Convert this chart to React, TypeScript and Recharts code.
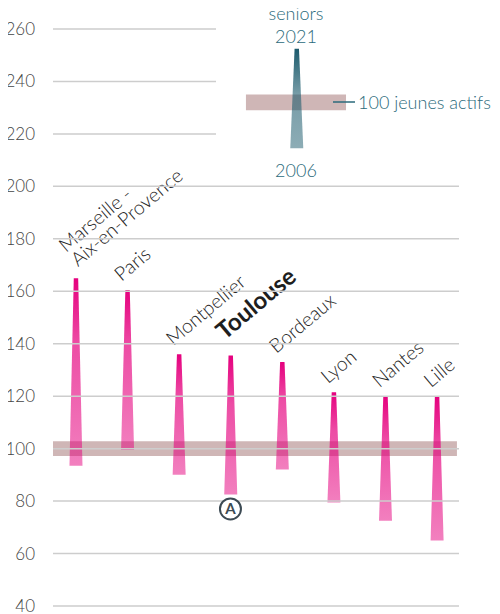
import { ComposedChart, Bar, XAxis, YAxis, ReferenceLine, ReferenceArea, ReferenceDot } from 'recharts';

// seniors per 100 young workers, 2006 -> 2021
const cities = ['Marseille - Aix-en-Provence', 'Paris', 'Montpellier', 'Toulouse', 'Bordeaux', 'Lyon', 'Nantes', 'Lille'];
const cityLines = [['Marseille -', 'Aix-en-Provence'], ['Paris'], ['Montpellier'], ['Toulouse'], ['Bordeaux'], ['Lyon'], ['Nantes'], ['Lille']];
const seniors2006 = [93.5, 99.5, 90, 82.5, 92, 79.5, 72.5, 65];
const seniors2021 = [165, 160.5, 136, 135.5, 133, 121.5, 120, 120];
const yTicks = [40, 60, 80, 100, 120, 140, 160, 180, 200, 220, 240, 260];

// legend key
const legendX = 4.28;
const legend2006 = 214.5;
const legend2021 = 252.5;

const X_MIN = -0.44;
const X_MAX = 7.43;
const TEAL = '#2b6a7b';
const FONT = 'Lato, "Open Sans", sans-serif';

const labelOffset: Record<string, [number, number]> = {
  'Marseille - Aix-en-Provence': [2, -11],
  Toulouse: [-6, -15],
};

const data = [
  ...cities.map((name, i) => ({
    name,
    lines: cityLines[i],
    x: i,
    range: [seniors2006[i], seniors2021[i]],
    legend: false,
  })),
  { name: 'legend', lines: [], x: legendX, range: [legend2006, legend2021], legend: true },
];

function Spike(props: any) {
  const { x, y, width, height, payload } = props;
  if (y == null || isNaN(y) || !height) return null;
  const cx = x + width / 2;
  const top = y;
  const bottom = y + height;
  const fill = payload.legend ? 'url(#gTeal)' : 'url(#gPink)';
  const bold = payload.name === 'Toulouse';
  const [ox, oy] = labelOffset[payload.name] || [-6, -8];
  const lines: string[] = payload.lines;
  return (
    <g>
      <polygon
        points={`${cx - 2.2},${top} ${cx + 2.2},${top} ${cx + width / 2},${bottom} ${cx - width / 2},${bottom}`}
        fill={fill}
      />
      {lines.length > 0 && (
        <text
          transform={`translate(${cx + ox},${top + oy}) rotate(-40)`}
          fontFamily={FONT}
          fontSize={bold ? 24 : 19.5}
          fontWeight={bold ? 700 : 300}
          fill={bold ? '#1e1e1e' : '#262626'}
        >
          {lines.map((l, i) => (
            <tspan key={l} x={0} y={(i - (lines.length - 1)) * 18.5}>
              {l}
            </tspan>
          ))}
        </text>
      )}
    </g>
  );
}

export default function App() {
  return (
    <div style={{ position: 'relative', width: 500, height: 614, margin: '-8px 0 0 -8px', fontFamily: FONT }}>
      <ComposedChart width={500} height={614} data={data} margin={{ top: 29, right: 41, bottom: 8, left: 0 }}>
        <defs>
          <linearGradient id="gPink" x1="0" y1="0" x2="0" y2="1">
            <stop offset="0" stopColor="#e5007e" stopOpacity={1} />
            <stop offset="0.35" stopColor="#e5007e" stopOpacity={0.7} />
            <stop offset="1" stopColor="#e5007e" stopOpacity={0.5} />
          </linearGradient>
          <linearGradient id="gTeal" x1="0" y1="0" x2="0" y2="1">
            <stop offset="0" stopColor="#1b5a6c" stopOpacity={1} />
            <stop offset="0.45" stopColor="#1b5a6c" stopOpacity={0.6} />
            <stop offset="1" stopColor="#1b5a6c" stopOpacity={0.5} />
          </linearGradient>
        </defs>
        <XAxis dataKey="x" type="number" domain={[X_MIN, X_MAX]} hide />
        <YAxis
          type="number"
          domain={[40, 260]}
          ticks={yTicks}
          interval={0}
          width={53}
          axisLine={false}
          tickLine={false}
          tickSize={0}
          tickMargin={18}
          tick={{ fontSize: 17, fill: '#454545', fontFamily: FONT, fontWeight: 300 }}
        />
        {yTicks.map((t) => (
          <ReferenceLine
            key={t}
            segment={[
              { x: X_MIN, y: t },
              { x: t > 200 ? 2.72 : X_MAX, y: t },
            ]}
            stroke="#cdcdcd"
            strokeWidth={1.5}
          />
        ))}
        <ReferenceArea x1={X_MIN} x2={7.39} y1={97.2} y2={102.8} fill="#cfb6b6" fillOpacity={1} stroke="none" />
        <ReferenceArea x1={3.3} x2={5.24} y1={229} y2={235} fill="#cfb6b6" fillOpacity={1} stroke="none" />
        <Bar dataKey="range" barSize={21} shape={Spike} isAnimationActive={false} />
        <ReferenceDot
          x={3}
          y={77}
          r={10.5}
          fill="#fff"
          stroke="#3c4a53"
          strokeWidth={2}
          label={{ value: 'A', position: 'center', fill: '#3c4a53', fontSize: 15, fontWeight: 700 }}
        />
      </ComposedChart>
      <svg width={500} height={614} style={{ position: 'absolute', left: 0, top: 0, pointerEvents: 'none' }}>
        <g fontFamily={FONT} fontSize={18} fill={TEAL} fontWeight={300}>
          <text x={296} y={20} textAnchor="middle">seniors</text>
          <text x={296} y={43} textAnchor="middle">2021</text>
          <text x={296} y={177} textAnchor="middle">2006</text>
          <line x1={333} x2={355} y1={102} y2={102} stroke={TEAL} strokeWidth={1.5} />
          <text x={358} y={109}>100 jeunes actifs</text>
        </g>
      </svg>
    </div>
  );
}
